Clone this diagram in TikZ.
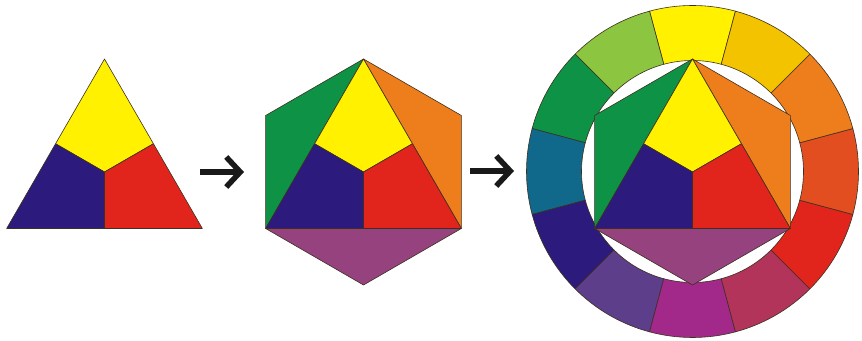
\documentclass[tikz,border=0pt]{standalone}
\usetikzlibrary{arrows.meta,calc}

\definecolor{cYellow}{HTML}{FFF100}
\definecolor{cBlue}{HTML}{2C1B7C}
\definecolor{cRed}{HTML}{E1251C}
\definecolor{cGreen}{HTML}{0E9346}
\definecolor{cOrange}{HTML}{EE7D1C}
\definecolor{cViolet}{HTML}{95427F}
\definecolor{cYelOr}{HTML}{F4C300}
\definecolor{cRedOr}{HTML}{E34E21}
\definecolor{cRedVi}{HTML}{B2345A}
\definecolor{cMagenta}{HTML}{A2298A}
\definecolor{cBlueVi}{HTML}{5D3E8B}
\definecolor{cTeal}{HTML}{10688A}
\definecolor{cYelGr}{HTML}{8CC53F}
\definecolor{cOutline}{HTML}{3D3020}

\begin{document}
\begin{tikzpicture}[
			x=1pt, y=1pt,
			>={Straight Barb[length=14pt,width=30pt]},
			edge/.style      = {draw=cOutline, line width=0.6pt, line join=round},
			arrowline/.style = {->, line width=5.5pt, draw=black!90}
			]
			\useasboundingbox (0,0) rectangle (862,340);
			
			%--- colour circle: twelve ring segments ---
			\begin{scope}[shift={(692.5,168.5)}]
				\foreach \ang/\col in {75/cYellow, 105/cYelGr, 135/cGreen, 165/cTeal,
					195/cBlue, 225/cBlueVi, 255/cMagenta, 285/cRedVi,
					315/cRed, 345/cRedOr, 15/cOrange, 45/cYelOr}
				\filldraw[edge, fill=\col] (\ang:111pt)
					arc[start angle=\ang, end angle=\ang+30, radius=111pt]
					-- (\ang+30:166pt)
					arc[start angle=\ang+30, end angle=\ang, radius=166pt] -- cycle;
			\end{scope}
			
			%--- secondary colours (hexagon) ---
			\foreach \cx in {363.5, 692.5} {
				\begin{scope}[shift={(\cx,168)}]
					\coordinate (T) at (90:113pt);
					\coordinate (L) at (210:113pt);
					\coordinate (R) at (330:113pt);
					\filldraw[edge, fill=cGreen]  (T) -- (150:113pt) -- (L) -- cycle;
					\filldraw[edge, fill=cOrange] (T) -- (30:113pt) -- (R) -- cycle;
					\filldraw[edge, fill=cViolet] (L) -- (270:113pt) -- (R) -- cycle;
				\end{scope}
			}
			
			%--- primary colours (triangle) ---
			\foreach \cx in {104.5, 363.5, 692.5} {
				\begin{scope}[shift={(\cx,168)}]
					\coordinate (c)  at (0,0);
					\coordinate (T)  at (90:113pt);
					\coordinate (L)  at (210:113pt);
					\coordinate (R)  at (330:113pt);
					\coordinate (ml) at ($(T)!0.5!(L)$);
					\coordinate (mr) at ($(T)!0.5!(R)$);
					\coordinate (mb) at ($(L)!0.5!(R)$);
					\filldraw[edge, fill=cYellow] (T) -- (ml) -- (c) -- (mr) -- cycle;
					\filldraw[edge, fill=cBlue]   (ml) -- (L) -- (mb) -- (c) -- cycle;
					\filldraw[edge, fill=cRed]    (c) -- (mb) -- (R) -- (mr) -- cycle;
				\end{scope}
			}
			
			%--- arrows between the steps ---
			\coordinate (a1s) at (200,168);
			\coordinate (a1e) at (244,168);
			\coordinate (a2s) at (470,169);
			\coordinate (a2e) at (514,169);
			\draw[arrowline] (a1s) -- (a1e);
			\draw[arrowline] (a2s) -- (a2e);
		\end{tikzpicture}
\end{document}
